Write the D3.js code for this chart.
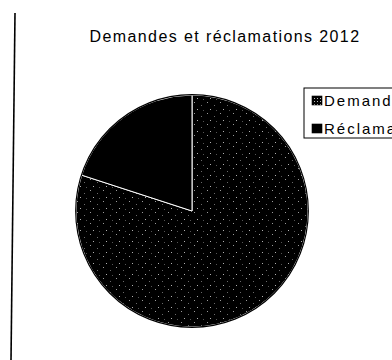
<!DOCTYPE html>
<html>
<head>
<meta charset="utf-8">
<script src="https://cdn.jsdelivr.net/npm/d3@7/dist/d3.min.js"></script>
<style>
  html, body { margin: 0; padding: 0; background: #fff; }
  svg { display: block; }
  text { font-family: "Liberation Sans", Arial, sans-serif; fill: #000; }
</style>
</head>
<body>
<svg id="chart" width="392" height="360"></svg>
<script>
// Chart data
const title = "Demandes et réclamations 2012";
const categories = ["Demandes", "Réclamations"];
const values = [80, 20];

const svg = d3.select("#chart");
const W = 392, H = 360;

// Fill patterns: dark speckled texture for Demandes, solid black for Réclamations
const defs = svg.append("defs");
const pat = defs.append("pattern")
  .attr("id", "speckle")
  .attr("patternUnits", "userSpaceOnUse")
  .attr("width", 13).attr("height", 11);
pat.append("rect").attr("width", 13).attr("height", 11).attr("fill", "#000");
[[2, 1, "#9a9a9a"], [9, 4, "#6a6a6a"], [5, 8, "#b0b0b0"], [11, 9, "#555"]].forEach(([x, y, c]) => {
  pat.append("rect").attr("x", x).attr("y", y).attr("width", 1).attr("height", 1).attr("fill", c);
});
const legendPat = defs.append("pattern")
  .attr("id", "grid")
  .attr("patternUnits", "userSpaceOnUse")
  .attr("width", 3).attr("height", 3);
legendPat.append("rect").attr("width", 3).attr("height", 3).attr("fill", "#000");
legendPat.append("rect").attr("x", 1).attr("y", 1).attr("width", 1).attr("height", 1).attr("fill", "#bbb");

const fills = ["url(#speckle)", "#000"];
const legendFills = ["url(#grid)", "#000"];

// Left border line of the sheet
svg.append("line")
  .attr("x1", 15).attr("y1", 13)
  .attr("x2", 11).attr("y2", H)
  .attr("stroke", "#000").attr("stroke-width", 1.6);

// Title
svg.append("text")
  .attr("x", 225).attr("y", 42)
  .attr("text-anchor", "middle")
  .attr("font-size", 16)
  .attr("letter-spacing", 1.4)
  .text(title);

// Pie
const cx = 192, cy = 211, r = 116;
const pie = d3.pie().sort(null).value(d => d)(values);
const arc = d3.arc().innerRadius(0).outerRadius(r);
const g = svg.append("g").attr("transform", `translate(${cx},${cy})`);
g.selectAll("path.slice")
  .data(pie)
  .join("path")
  .attr("class", "slice")
  .attr("d", arc)
  .attr("fill", (d, i) => fills[i])
  .attr("stroke", "#fff")
  .attr("stroke-width", 1)
  .attr("stroke-linejoin", "round");
g.append("circle")
  .attr("r", r + 0.3)
  .attr("fill", "none")
  .attr("stroke", "#000")
  .attr("stroke-width", 1.2);

// Legend (runs past the right edge of the sheet)
const lg = svg.append("g").attr("transform", "translate(304,88)");
lg.append("rect")
  .attr("x", 0).attr("y", 0)
  .attr("width", 130).attr("height", 50)
  .attr("fill", "#fff")
  .attr("stroke", "#000").attr("stroke-width", 1);
const items = lg.selectAll("g.item")
  .data(categories)
  .join("g")
  .attr("class", "item")
  .attr("transform", (d, i) => `translate(0,${12 + i * 28})`);
items.append("rect")
  .attr("x", 8).attr("y", -4)
  .attr("width", 10).attr("height", 9)
  .attr("fill", (d, i) => legendFills[i])
  .attr("stroke", "#000").attr("stroke-width", 0.6);
items.append("text")
  .attr("x", 20).attr("y", 5.5)
  .attr("font-size", 15)
  .attr("letter-spacing", 2)
  .text(d => d);
</script>
</body>
</html>
